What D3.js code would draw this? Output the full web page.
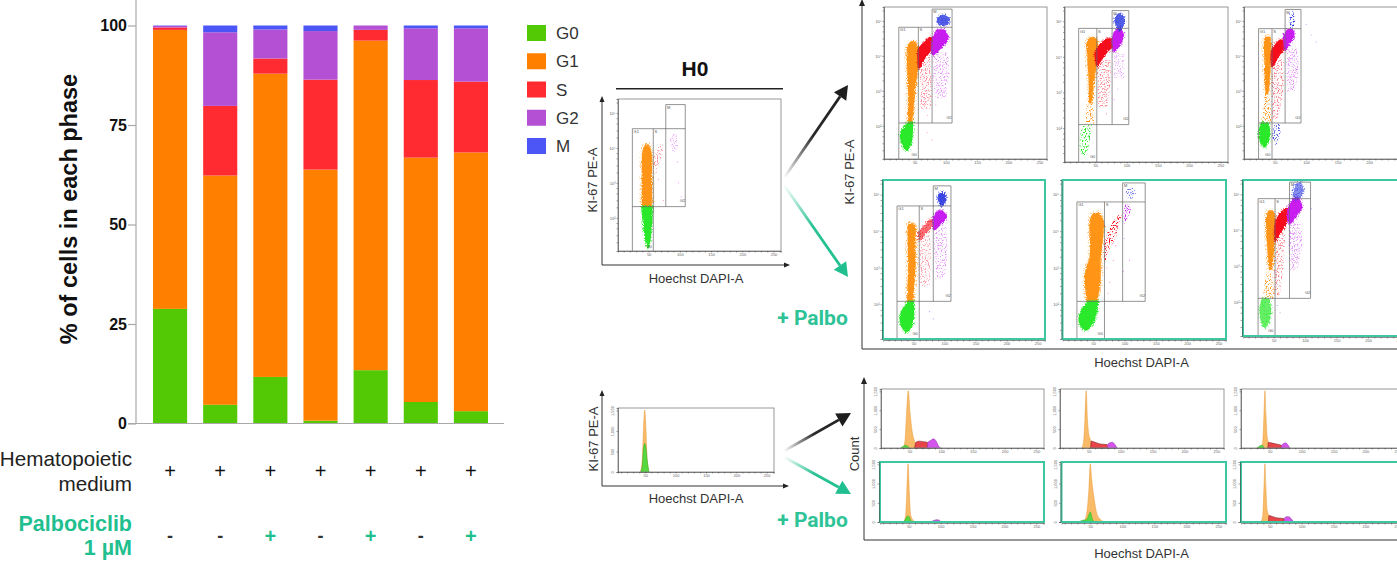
<!DOCTYPE html>
<html>
<head>
<meta charset="utf-8">
<script src="https://cdn.jsdelivr.net/npm/d3@7"></script>
<style>
html, body { margin: 0; padding: 0; background: #fff; overflow: hidden; }
text { font-family: "Liberation Sans", Arial, sans-serif; }
</style>
</head>
<body>
<div id="chart"></div>
<script>
// stacked bars
var phases = ['G0', 'G1', 'S', 'G2', 'M'];
var conditions = ['a', 'b', 'c', 'd', 'e', 'f', 'g'];
var g0Values = [28.8, 4.7, 11.7, 0.7, 13.4, 5.4, 3.1];
var g1Values = [70.1, 57.6, 76.2, 63.1, 82.8, 61.4, 65.0];
var sValues = [0.6, 17.5, 3.8, 22.6, 2.7, 19.5, 17.8];
var g2Values = [0.4, 18.5, 7.3, 12.2, 1.1, 13.0, 13.4];
var mValues = [0.1, 1.7, 1.0, 1.4, 0, 0.7, 0.7];
var yTicks = [0, 25, 50, 75, 100];
var mediumRow = ['+', '+', '+', '+', '+', '+', '+'];
var palboRow = ['-', '-', '+', '-', '+', '-', '+'];

// flow gates: left, G1|S, S|G2, right, top, M top, G0 split
var gatesH0 = [24, 57.5, 77.5, 108.7, 4.55, 5.24, 2.32];
var gatesA = [24.7, 56, 78, 110, 4.82, 5.34, 2.08];
var gatesB = [23.6, 52.6, 77, 103.6, 4.8, 5.3, 2.1];
var gatesC = [24.2, 45.6, 66.4, 91.7, 4.78, 5.33, 2.08];
var gatesD = [23.6, 59.4, 82, 110.5, 4.69, 5.24, 2.08];
var gatesE = [24, 68, 97, 133, 4.8, 5.32, 2.08];
var gatesF = [25, 52, 75, 108.5, 4.88, 5.34, 2.1];

// flow clouds: phase, density, slices of [decade, centre, half width]
var cloudsH0 = [
	['G1', 1, [[4.1, 47, 3], [3.9, 47.3, 7], [3.0, 47.3, 8], [2.32, 47.3, 8]]],
	['G0', 1, [[2.32, 47.5, 8], [2, 48, 7], [1.6, 48.5, 5], [1.25, 49, 2], [1.15, 49, 0.5]]],
	['S', 0.12, [[4.1, 70, 3], [3.8, 65, 6], [3.4, 61, 2]]],
	['G2', 0.1, [[4.4, 92, 3], [4.2, 90, 7], [3.9, 92, 3]]]
];
var cloudsA = [
	['S', 0.12, [[4.0, 66, 8], [3.2, 68, 9], [2.5, 68, 8]]],
	['G2', 0.12, [[4.1, 92, 12], [3.4, 92, 12], [2.8, 92, 8]]],
	['G1', 1, [[4.42, 47, 2], [4.3, 47, 8], [3.7, 47, 9], [3.13, 45.5, 6], [2.08, 43, 3.5]]],
	['G0', 1, [[2.1, 44, 3], [1.8, 37, 9], [1.5, 37, 7], [1.3, 37, 1]]],
	['S', 1, [[4.52, 76, 2], [4.42, 74, 6], [4.18, 66, 10], [3.9, 60, 4.5], [3.66, 57, 1]]],
	['G2', 1, [[4.74, 92, 6], [4.49, 91, 12], [4.18, 83, 6], [4.04, 80, 1]]],
	['M', 0.8, [[5.15, 96, 2], [5.05, 96, 9], [4.93, 96, 7], [4.88, 96, 1]]]
];
var cloudsB = [
	['S', 0.14, [[3.9, 64, 10], [3.3, 64, 10], [2.6, 62, 7]]],
	['G2', 0.1, [[4.1, 88, 8], [3.4, 88, 8]]],
	['G1', 1, [[4.55, 45.5, 3], [4.45, 45.5, 8], [3.9, 45.5, 8], [3.44, 44.4, 5], [2.98, 43, 3], [2.7, 42, 2]]],
	['G1', 0.3, [[3, 43, 4], [2.14, 41, 7]]],
	['G0', 0.35, [[2.1, 38, 6], [1.8, 34, 8], [1.4, 32, 6], [1.2, 32, 1]]],
	['S', 1, [[4.5, 73, 4], [4.32, 67.4, 11], [4.13, 59, 9], [3.9, 55, 4], [3.76, 53, 1]]],
	['G2', 1, [[4.8, 88, 2], [4.6, 87, 8], [4.4, 84, 7], [4.15, 80, 1]]],
	['M', 0.8, [[5.2, 89, 2], [5.05, 89, 7], [4.88, 89, 5], [4.75, 89, 1]]]
];
var cloudsC = [
	['S', 0.14, [[3.9, 55, 9], [3.0, 54, 9], [2.2, 50, 4]]],
	['G2', 0.14, [[4.2, 78, 8], [3.5, 78, 9], [3.0, 76, 5]]],
	['G1', 1, [[4.55, 38.4, 3], [4.5, 38.4, 5], [3.95, 38.4, 5], [3.2, 38, 3.5], [2.9, 37.5, 2]]],
	['G1', 0.3, [[3, 37.5, 3], [2.08, 37, 8]]],
	['G0', 1, [[2.08, 34, 5], [1.85, 33.5, 8], [1.55, 33.5, 6], [1.4, 33.5, 1]]],
	['M', 0.25, [[2.05, 54, 4], [1.7, 52, 6], [1.45, 52, 1]]],
	['S', 1, [[4.45, 62, 4], [4.2, 55, 9], [3.95, 49, 5], [3.7, 46.5, 1]]],
	['G2', 1, [[4.75, 74, 3], [4.6, 73, 8], [4.35, 69, 4], [4.2, 67, 1]]],
	['M', 0.45, [[5.3, 76, 2], [5.05, 78, 4], [4.8, 77, 3]]]
];
var cloudsD = [
	['S', 0.1, [[3.9, 68, 8], [3.2, 68, 10], [2.5, 68, 8]]],
	['G2', 0.12, [[4.1, 94, 9], [3.4, 94, 10], [2.7, 94, 6]]],
	['G1', 1, [[4.22, 46, 3], [4.15, 47, 6], [3.65, 47, 6], [2.99, 47.5, 6], [2.2, 45, 5], [2.08, 45, 5]]],
	['G0', 1, [[2.08, 46, 4], [1.75, 40, 10], [1.45, 39, 9], [1.25, 39, 1]]],
	['S', 0.6, [[4.3, 80, 4], [4.1, 72, 6], [3.95, 64, 5], [3.78, 60, 1]]],
	['G2', 1, [[4.55, 93, 3], [4.4, 93, 10], [4.2, 88, 6], [4.05, 84, 1]]],
	['M', 0.9, [[5.05, 96, 2], [4.92, 96, 6], [4.8, 96, 4], [4.7, 96, 1]]]
];
var cloudsE = [
	['G1', 1, [[4.5, 55, 5], [4.3, 55.5, 11], [3.7, 55, 10], [3.25, 53, 9], [2.95, 50, 12], [2.5, 49, 12], [2.08, 48, 8]]],
	['G0', 1, [[2.08, 50, 8], [1.8, 43, 12], [1.5, 39, 11], [1.3, 38, 2]]],
	['S', 0.45, [[4.45, 94, 3], [4.2, 85, 5], [3.85, 78, 8], [3.5, 71, 4], [3.2, 69, 1]]],
	['G2', 0.4, [[4.75, 104, 1], [4.56, 104, 6], [4.4, 102, 3], [4.2, 100, 1]]],
	['M', 0.2, [[5.2, 110, 2], [5.05, 110, 8], [4.9, 110, 2]]]
];
var cloudsF = [
	['S', 0.14, [[3.9, 60, 8], [3.0, 58, 7], [2.2, 55, 4]]],
	['G2', 0.14, [[4.2, 84, 10], [3.5, 84, 10], [2.9, 82, 5]]],
	['G1', 1, [[4.55, 45, 3], [4.4, 45, 7], [3.9, 45.5, 7], [3.2, 45, 4], [2.9, 45, 2.5]]],
	['G1', 0.3, [[3, 44, 3], [2.1, 41, 9]]],
	['G0', 0.7, [[2.08, 37, 5], [1.8, 36.5, 8], [1.55, 36.5, 7], [1.3, 36, 1]]],
	['S', 1, [[4.6, 71, 3], [4.4, 66, 8], [4.15, 60, 8], [3.85, 54, 3], [3.7, 52, 0.5]]],
	['G2', 1, [[4.9, 86, 3], [4.65, 84, 10], [4.35, 78, 6], [4.2, 76, 1]]],
	['M', 0.55, [[5.3, 90, 3], [5.1, 89, 7], [4.9, 86, 4], [4.85, 85, 1]]]
];

// stray events outside the dense clouds: phase, x, decade
var strayH0 = [['S', 62, 3.3], ['S', 58, 2.8], ['S', 66, 3.1], ['G2', 98, 3.0], ['G2', 102, 2.6], ['G2', 96, 3.6], ['S', 74, 2.5]];
var strayA = [['S', 70, 3.6], ['S', 75, 3.3], ['S', 62, 3.2], ['S', 68, 3.0], ['S', 60, 3.4], ['S', 73, 2.8], ['S', 65, 2.6], ['S', 71, 2.3], ['G2', 85, 3.9], ['G2', 90, 3.7], ['G2', 100, 3.8], ['G2', 105, 3.5], ['G2', 88, 3.2], ['G2', 96, 3.0], ['G2', 84, 2.6], ['S', 70, 1.8], ['S', 78, 1.6]];
var strayB = [['S', 58, 3.5], ['S', 62, 3.3], ['S', 66, 3.6], ['S', 70, 3.1], ['S', 57, 2.9], ['S', 64, 2.7], ['S', 72, 3.4], ['S', 68, 2.4], ['G2', 82, 3.8], ['G2', 90, 3.6], ['G2', 86, 3.1], ['G2', 95, 3.9], ['G2', 80, 2.8], ['G1', 118, 1.05]];
var strayC = [['S', 50, 3.5], ['S', 52, 3.2], ['S', 56, 3.0], ['S', 48, 2.9], ['S', 60, 3.4], ['S', 54, 2.6], ['S', 49, 2.4], ['S', 47, 2.2], ['G2', 72, 3.9], ['G2', 80, 4.1], ['G2', 76, 3.4], ['G2', 70, 3.0], ['G2', 84, 3.6], ['M', 108, 4.6], ['M', 116, 4.4], ['M', 100, 4.9]];
var strayD = [['S', 65, 3.5], ['S', 72, 3.2], ['S', 62, 3.0], ['S', 76, 2.8], ['S', 68, 2.5], ['G2', 88, 3.8], ['G2', 96, 3.5], ['G2', 92, 3.1], ['G2', 86, 2.7], ['M', 82, 1.6], ['M', 76, 1.8]];
var strayE = [['S', 72, 3.0], ['S', 76, 2.6], ['S', 82, 3.2], ['S', 86, 3.6], ['S', 74, 2.3], ['G2', 100, 3.8], ['G2', 108, 3.2], ['G2', 98, 2.9]];
var strayF = [['S', 55, 3.4], ['S', 58, 3.0], ['S', 54, 2.7], ['S', 60, 3.6], ['S', 53, 2.4], ['S', 57, 2.2], ['G2', 80, 3.9], ['G2', 85, 3.6], ['G2', 78, 3.2], ['G2', 90, 3.4], ['G2', 82, 2.9], ['M', 56, 1.9], ['M', 60, 1.7], ['M', 110, 4.6]];

// histograms: phase, [x, share of peak]
var histH0 = [
	['G1', [[42, 0], [45, 0.2], [47, 0.7], [49, 1], [51, 0.7], [53, 0.2], [56, 0]]],
	['G0', [[42, 0], [45, 0.1], [47, 0.38], [49, 0.46], [51, 0.4], [53, 0.2], [56, 0]]]
];
var histA = [
	['G1', [[40, 0], [43, 0.15], [45, 0.55], [48, 1], [51, 0.6], [54, 0.3], [58, 0.12], [62, 0.04]]],
	['G0', [[36, 0], [40, 0.03], [44, 0.05], [47, 0.03], [50, 0]]],
	['S', [[58, 0], [60, 0.1], [65, 0.12], [72, 0.11], [78, 0.1], [79, 0]]],
	['G2', [[78, 0], [79, 0.1], [83, 0.13], [88, 0.16], [92, 0.12], [96, 0.03], [99, 0]]]
];
var histB = [
	['G1', [[39, 0], [42, 0.12], [44, 0.5], [46, 1], [48, 0.5], [50, 0.25], [54, 0.12]]],
	['S', [[53, 0], [54, 0.12], [60, 0.1], [68, 0.07], [79, 0.06], [80, 0]]],
	['G2', [[79, 0], [80, 0.06], [83, 0.09], [87, 0.1], [91, 0.06], [94, 0.01]]]
];
var histC = [
	['G1', [[36, 0], [39, 0.1], [41, 0.6], [42.5, 1], [44, 0.6], [46, 0.2], [48, 0.1]]],
	['G0', [[30, 0], [35, 0.04], [38, 0.05], [41, 0.01]]],
	['S', [[47, 0], [48, 0.1], [52, 0.09], [60, 0.07], [68, 0.05], [69, 0]]],
	['G2', [[68, 0], [69, 0.05], [72, 0.08], [75, 0.09], [78, 0.06], [81, 0.01]]]
];
var histD = [
	['G1', [[42, 0], [45, 0.1], [47, 0.5], [49, 1], [51, 0.5], [53, 0.12], [57, 0.03]]],
	['G0', [[42, 0], [45, 0.05], [48, 0.1], [50, 0.1], [53, 0.03], [56, 0]]],
	['G2', [[85, 0], [90, 0.03], [94, 0.04], [98, 0.03], [101, 0]]]
];
var histE = [
	['G1', [[38, 0], [42, 0.05], [45, 0.2], [48, 0.6], [50, 1], [52, 0.75], [56, 0.4], [60, 0.15], [65, 0.05], [70, 0.01]]],
	['G0', [[32, 0], [38, 0.03], [44, 0.04], [47, 0.1], [50, 0.17], [53, 0.06], [56, 0]]]
];
var histF = [
	['G1', [[36, 0], [39, 0.1], [41, 0.6], [42.5, 1], [44, 0.6], [46, 0.2], [49, 0.12]]],
	['G0', [[33, 0], [37, 0.01], [40, 0.01]]],
	['S', [[48, 0], [49, 0.11], [55, 0.09], [62, 0.07], [72, 0.06], [73, 0]]],
	['G2', [[72, 0], [73, 0.06], [76, 0.09], [80, 0.09], [84, 0.05], [87, 0.01]]]
];

var flowXTicks = d3.range(10, 261, 10);
var flowXLabels = [50, 100, 150, 200, 250];
var flowYTicks = [2, 3, 4, 5];
var flowYMinor = [1.3, 1.5, 1.7, 1.85, 2.3, 2.5, 2.7, 2.85, 3.3, 3.5, 3.7, 3.85, 4.3, 4.5, 4.7, 4.85, 5.3];
var countTicks = [0, 0.33, 0.66, 0.99];
var countLabels = ['0', '500', '1,000', '1,500'];

var barColor = d3.scaleOrdinal(phases, ['#53c804', '#ff8000', '#ff2b30', '#b350d4', '#4c56f6']);
var cloudColor = d3.scaleOrdinal(phases, ['#2be82b', '#ff9415', '#f5101c', '#c81ff0', '#2a37e0']);
var histColor = d3.scaleOrdinal(phases, ['#55d83f', '#f9bb68', '#e8444a', '#d455ec', '#4c56f6']);
var histEdge = d3.scaleOrdinal(phases, ['#2aa81e', '#e89a3a', '#701418', '#8a2aa0', '#222a90']);

var ink = '#111';
var teal = '#1fbf8f';
var frameTeal = '#3ec6a0';
var axisGrey = '#a9a9a9';

var width = 1397, height = 572;
var svg = d3.select('#chart').append('svg')
	.attr('width', width)
	.attr('height', height)
	.style('display', 'block');
var defs = svg.append('defs');

// grainy edge so the dense clouds do not read as flat shapes
var grain = defs.append('filter').attr('id', 'grain')
	.attr('x', '-30%').attr('y', '-30%').attr('width', '160%').attr('height', '160%');
grain.append('feTurbulence').attr('type', 'fractalNoise').attr('baseFrequency', 0.9)
	.attr('numOctaves', 2).attr('seed', 4).attr('result', 'n');
grain.append('feDisplacementMap').attr('in', 'SourceGraphic').attr('in2', 'n')
	.attr('scale', 3.5).attr('xChannelSelector', 'R').attr('yChannelSelector', 'G').attr('result', 'd');
grain.append('feGaussianBlur').attr('in', 'd').attr('stdDeviation', 0.5);

// speckle mask for the thin parts and the halo round each cloud
var speckle = defs.append('filter').attr('id', 'speckle')
	.attr('x', '-30%').attr('y', '-30%').attr('width', '160%').attr('height', '160%');
speckle.append('feTurbulence').attr('type', 'fractalNoise').attr('baseFrequency', 0.75)
	.attr('numOctaves', 1).attr('seed', 9).attr('result', 'n');
speckle.append('feColorMatrix').attr('in', 'n').attr('type', 'matrix')
	.attr('values', '0 0 0 0 0  0 0 0 0 0  0 0 0 0 0  7 0 0 0 -3.6').attr('result', 'mask');
speckle.append('feComposite').attr('in', 'SourceGraphic').attr('in2', 'mask')
	.attr('operator', 'in').attr('result', 'dots');
speckle.append('feGaussianBlur').attr('in', 'dots').attr('stdDeviation', 0.25);

defs.append('filter').attr('id', 'soft')
	.append('feGaussianBlur').attr('stdDeviation', 0.3);

var bandX = d3.scaleBand().domain(conditions).range([145, 496])
	.paddingInner(0.32).paddingOuter(0.16);

drawBars();
drawLegend();
drawRows();

// flow panels
drawFlow({ x: 618, y: 99, w: 163, h: 152 }, gatesH0, cloudsH0, strayH0, false);
drawFlow({ x: 884, y: 7, w: 163, h: 152 }, gatesA, cloudsA, strayA, false);
drawFlow({ x: 1064.5, y: 7, w: 163.5, h: 155 }, gatesB, cloudsB, strayB, false);
drawFlow({ x: 1244, y: 7, w: 164, h: 152 }, gatesC, cloudsC, strayC, false);
drawFlow({ x: 883, y: 180, w: 162, h: 159 }, gatesD, cloudsD, strayD, true);
drawFlow({ x: 1062.5, y: 180, w: 163.5, h: 159 }, gatesE, cloudsE, strayE, true);
drawFlow({ x: 1243, y: 180, w: 164, h: 156 }, gatesF, cloudsF, strayF, true);

// histogram panels
drawHist({ x: 618, y: 408, w: 156, h: 64 }, histH0, false);
drawHist({ x: 881, y: 389, w: 163, h: 59 }, histA, false);
drawHist({ x: 1060, y: 389, w: 164, h: 59 }, histB, false);
drawHist({ x: 1241, y: 389, w: 164, h: 59 }, histC, false);
drawHist({ x: 880, y: 462, w: 164, h: 60 }, histD, true);
drawHist({ x: 1061.5, y: 462, w: 164.5, h: 60 }, histE, true);
drawHist({ x: 1241, y: 462, w: 164, h: 60 }, histF, true);

drawFrames();

function drawBars() {
	var y = d3.scaleLinear().domain([0, 100]).range([423.5, 25.5]);
	var rows = conditions.map(function (c, i) {
		return { c: c, G0: g0Values[i], G1: g1Values[i], S: sValues[i], G2: g2Values[i], M: mValues[i] };
	});
	var stacked = d3.stack().keys(phases)(rows);

	var chart = svg.append('g');
	chart.selectAll('g.layer')
		.data(stacked)
		.enter().append('g')
			.attr('class', 'layer')
			.attr('fill', function (d) { return barColor(d.key); })
		.selectAll('rect')
		.data(function (d) { return d; })
		.enter().append('rect')
			.attr('x', function (d) { return bandX(d.data.c); })
			.attr('width', bandX.bandwidth())
			.attr('y', function (d) { return y(d[1]); })
			.attr('height', function (d) { return y(d[0]) - y(d[1]); });

	var axis = chart.append('g')
		.attr('transform', 'translate(136,0)')
		.call(d3.axisLeft(y).tickValues(yTicks).tickSize(8).tickPadding(1));
	axis.select('.domain').remove();
	axis.selectAll('line').attr('stroke', axisGrey).attr('stroke-width', 1.2);
	axis.selectAll('text')
		.attr('fill', ink)
		.style('font-size', '16px')
		.style('font-weight', 'bold');
	chart.append('line').attr('x1', 136).attr('x2', 136).attr('y1', 0).attr('y2', y(0))
		.attr('stroke', axisGrey).attr('stroke-width', 1.2);
	chart.append('line').attr('x1', 128).attr('x2', 504).attr('y1', y(0)).attr('y2', y(0))
		.attr('stroke', axisGrey).attr('stroke-width', 1.2);

	chart.append('text')
		.attr('transform', 'translate(77,209) rotate(-90)')
		.attr('text-anchor', 'middle')
		.attr('fill', ink)
		.style('font-size', '23.5px')
		.style('font-weight', 'bold')
		.text('% of cells in each phase');
}

function drawLegend() {
	var y = d3.scalePoint().domain(phases).range([33, 146]);
	var row = svg.append('g').selectAll('g')
		.data(phases)
		.enter().append('g')
		.attr('transform', function (d) { return 'translate(527,' + y(d) + ')'; });
	row.append('rect')
		.attr('y', -8).attr('width', 19).attr('height', 16)
		.attr('fill', function (d) { return barColor(d); });
	row.append('text')
		.attr('x', 29).attr('y', 6)
		.attr('fill', '#333')
		.style('font-size', '17px')
		.text(function (d) { return d; });
}

function drawRows() {
	var centre = function (d, i) { return bandX(conditions[i]) + bandX.bandwidth() / 2; };

	svg.append('g').selectAll('text')
		.data(mediumRow)
		.enter().append('text')
		.attr('x', centre).attr('y', 478)
		.attr('text-anchor', 'middle').attr('fill', ink)
		.style('font-size', '20px')
		.text(function (d) { return d; });
	svg.append('g').selectAll('text')
		.data(palboRow)
		.enter().append('text')
		.attr('x', centre).attr('y', function (d) { return d === '+' ? 543 : 542; })
		.attr('text-anchor', 'middle')
		.attr('fill', function (d) { return d === '+' ? teal : '#333'; })
		.style('font-size', function (d) { return d === '+' ? '20px' : '18px'; })
		.style('font-weight', 'bold')
		.text(function (d) { return d; });

	var label = svg.append('g').attr('text-anchor', 'end');
	label.append('text').attr('x', 132).attr('y', 466).attr('fill', '#222')
		.style('font-size', '20.7px').text('Hematopoietic');
	label.append('text').attr('x', 132).attr('y', 491).attr('fill', '#222')
		.style('font-size', '20.7px').text('medium');
	label.append('text').attr('x', 132).attr('y', 531).attr('fill', teal)
		.style('font-size', '21.5px').style('font-weight', 'bold').text('Palbociclib');
	label.append('text').attr('x', 132).attr('y', 555).attr('fill', teal)
		.style('font-size', '21.5px').style('font-weight', 'bold').text('1 µM');
}

function smallAxis(g, scale, orient, ticks, major) {
	var axis = (orient === 'x' ? d3.axisBottom(scale) : d3.axisLeft(scale))
		.tickValues(ticks).tickSize(1.5).tickPadding(1)
		.tickFormat(function (d) { return major.indexOf(d) > -1 ? major.label(d) : ''; });
	g.call(axis);
	g.select('.domain').attr('stroke', '#444').attr('stroke-width', 0.6);
	g.selectAll('line').attr('stroke', '#444').attr('stroke-width', 0.5);
	g.selectAll('text').attr('fill', '#666').style('font-size', '4px');
}

function flowMajor() {
	var list = flowXLabels.slice();
	list.label = function (d) { return d; };
	return list;
}

function drawFlow(box, gates, clouds, stray, green) {
	var x = d3.scaleLinear().domain([1, 262]).range([box.x, box.x + box.w]);
	var y = d3.scaleLinear().domain([1.05, 5.4]).range([box.y + box.h, box.y]);
	var p = svg.append('g');

	var area = d3.area()
		.y(function (d) { return y(d[0]); })
		.x0(function (d) { return x(d[1] - d[2]); })
		.x1(function (d) { return x(d[1] + d[2]); })
		.curve(d3.curveCatmullRom);

	// thin clouds and a dotted halo round the dense ones
	p.append('g').attr('filter', 'url(#speckle)').selectAll('path')
		.data(clouds)
		.enter().append('path')
		.attr('d', function (d) { return area(d[2]); })
		.attr('fill', function (d) { return cloudColor(d[0]); })
		.attr('stroke', function (d) { return cloudColor(d[0]); })
		.attr('stroke-width', function (d) { return d[1] < 0.5 ? 0.5 : 5; })
		.attr('stroke-linejoin', 'round')
		.attr('opacity', function (d) { return d[1] < 0.5 ? Math.min(1, d[1] * 3.5) : 0.55; });

	p.append('g').attr('filter', 'url(#grain)').selectAll('path')
		.data(clouds.filter(function (d) { return d[1] >= 0.5; }))
		.enter().append('path')
		.attr('d', function (d) { return area(d[2]); })
		.attr('fill', function (d) { return cloudColor(d[0]); })
		.attr('stroke', function (d) { return cloudColor(d[0]); })
		.attr('stroke-width', function (d) { return d[0] === 'G1' ? 0.3 : 1.5; })
		.attr('stroke-linejoin', 'round')
		.attr('opacity', function (d) { return d[1]; });

	p.append('g').selectAll('circle')
		.data(stray)
		.enter().append('circle')
		.attr('cx', function (d) { return x(d[1]); })
		.attr('cy', function (d) { return y(d[2]); })
		.attr('r', 0.55)
		.attr('fill', function (d) { return cloudColor(d[0]); })
		.attr('opacity', 0.45);

	// gates
	var left = gates[0], gS = gates[1], gG2 = gates[2], right = gates[3];
	var top = gates[4], mTop = gates[5], split = gates[6];
	var segs = [
		[left, 1.05, left, top], [left, top, right, top], [gS, 1.05, gS, top],
		[gG2, split, gG2, mTop], [right, split, right, mTop], [gG2, mTop, right, mTop],
		[left, split, right, split]
	];
	p.append('g').selectAll('line')
		.data(segs)
		.enter().append('line')
		.attr('x1', function (d) { return x(d[0]); })
		.attr('y1', function (d) { return y(d[1]); })
		.attr('x2', function (d) { return x(d[2]); })
		.attr('y2', function (d) { return y(d[3]); })
		.attr('stroke', '#666').attr('stroke-width', 0.7);

	var names = [
		['G1', left + 2, top - 0.12], ['S', gS + 2, top - 0.12], ['M', gG2 + 2, mTop - 0.12],
		['G2', right - 9, split + 0.12], ['G0', gS - 11, 1.15]
	];
	p.append('g').selectAll('text')
		.data(names)
		.enter().append('text')
		.attr('x', function (d) { return x(d[1]); })
		.attr('y', function (d) { return y(d[2]); })
		.attr('fill', '#555')
		.style('font-size', '4px')
		.text(function (d) { return d[0]; });

	// panel frame
	p.append('rect')
		.attr('x', box.x).attr('y', box.y).attr('width', box.w).attr('height', box.h)
		.attr('fill', 'none')
		.attr('stroke', green ? frameTeal : '#8d8d8d')
		.attr('stroke-width', green ? 2 : 0.9);

	var xAxis = p.append('g').attr('transform', 'translate(0,' + (box.y + box.h + (green ? 1 : 0)) + ')');
	smallAxis(xAxis, x, 'x', flowXTicks, flowMajor());
	var major = flowYTicks.slice();
	major.label = function (d) { return '10' + '²³⁴⁵'.charAt(d - 2); };
	var yAxis = p.append('g').attr('transform', 'translate(' + (box.x - (green ? 1 : 0)) + ',0)');
	smallAxis(yAxis, y, 'y', flowYTicks.concat(flowYMinor), major);
}

function drawHist(box, series, green) {
	var x = d3.scaleLinear().domain([5, 262]).range([box.x, box.x + box.w]);
	var y = d3.scaleLinear().domain([0, 1.03]).range([box.y + box.h, box.y]);
	var p = svg.append('g');

	var area = d3.area()
		.x(function (d) { return x(d[0]); })
		.y0(y(0))
		.y1(function (d) { return y(d[1]); })
		.curve(d3.curveMonotoneX);

	p.append('g').attr('filter', 'url(#soft)').selectAll('path')
		.data(series)
		.enter().append('path')
		.attr('d', function (d) { return area(d[1]); })
		.attr('fill', function (d) { return histColor(d[0]); })
		.attr('stroke', function (d) { return histEdge(d[0]); })
		.attr('stroke-width', 0.5);

	p.append('rect')
		.attr('x', box.x).attr('y', box.y).attr('width', box.w).attr('height', box.h)
		.attr('fill', 'none')
		.attr('stroke', green ? frameTeal : '#8d8d8d')
		.attr('stroke-width', green ? 2 : 0.9);

	var xAxis = p.append('g').attr('transform', 'translate(0,' + (box.y + box.h + (green ? 1 : 0)) + ')');
	smallAxis(xAxis, x, 'x', flowXTicks, flowMajor());

	var major = countTicks.slice();
	major.label = function (d) { return countLabels[countTicks.indexOf(d)]; };
	var yAxis = p.append('g').attr('transform', 'translate(' + (box.x - (green ? 1 : 0)) + ',0)');
	smallAxis(yAxis, y, 'y', countTicks, major);
	yAxis.selectAll('text')
		.attr('transform', 'rotate(-90)')
		.attr('x', 0).attr('y', -4)
		.attr('dy', 0)
		.attr('text-anchor', 'middle');
}

function arrow(id, x1, y1, x2, y2, colour, w) {
	var grad = defs.append('linearGradient').attr('id', id)
		.attr('gradientUnits', 'userSpaceOnUse')
		.attr('x1', x1).attr('y1', y1).attr('x2', x2).attr('y2', y2);
	grad.append('stop').attr('offset', 0).attr('stop-color', colour).attr('stop-opacity', 0);
	grad.append('stop').attr('offset', 0.45).attr('stop-color', colour).attr('stop-opacity', 0.95);
	grad.append('stop').attr('offset', 1).attr('stop-color', colour);

	var angle = Math.atan2(y2 - y1, x2 - x1);
	var headLen = 14, headW = 7.5;
	var bx = x2 - headLen * Math.cos(angle), by = y2 - headLen * Math.sin(angle);
	var nx = -Math.sin(angle) * headW, ny = Math.cos(angle) * headW;

	svg.append('line')
		.attr('x1', x1).attr('y1', y1).attr('x2', bx).attr('y2', by)
		.attr('stroke', 'url(#' + id + ')').attr('stroke-width', w);
	svg.append('path')
		.attr('d', d3.line()([[x2, y2], [bx + nx, by + ny], [bx - nx, by - ny]]) + 'Z')
		.attr('fill', colour);
}

function axisArrow(points, head) {
	svg.append('path')
		.attr('d', d3.line()(points))
		.attr('fill', 'none').attr('stroke', '#333').attr('stroke-width', 1);
	head.forEach(function (h) {
		svg.append('path')
			.attr('d', d3.line()(h) + 'Z')
			.attr('fill', '#222');
	});
}

function plainText(str, x, y, size, opts) {
	opts = opts || {};
	var t = svg.append('text')
		.attr('text-anchor', 'middle')
		.attr('fill', opts.fill || '#333')
		.attr('transform', 'translate(' + x + ',' + y + ')' + (opts.rotate ? ' rotate(-90)' : ''))
		.style('font-size', size + 'px')
		.style('font-weight', opts.bold ? 'bold' : 'normal')
		.text(str);
	if (opts.family) t.style('font-family', opts.family);
}

function drawFrames() {
	// H0 scatter axes
	axisArrow([[602, 99], [602, 265], [786, 265]],
		[[[602, 96], [599.5, 102], [604.5, 102]], [[790, 265], [784, 262.5], [784, 267.5]]]);
	plainText('KI-67 PE-A', 597, 180, 13, { rotate: true });
	plainText('Hoechst DAPI-A', 696, 282.5, 13);
	plainText('H0', 695, 76, 21, { bold: true, fill: ink });
	svg.append('line').attr('x1', 616).attr('x2', 783).attr('y1', 88.7).attr('y2', 88.7)
		.attr('stroke', '#222').attr('stroke-width', 1.6);

	arrow('arrA', 784, 178, 848, 85, '#1e1e1e', 2.8);
	arrow('arrB', 784, 185, 848, 277, teal, 2.8);
	plainText('+ Palbo', 812.5, 325, 21, { bold: true, fill: '#2ec397', family: 'Roboto' });

	// outer scatter axes
	axisArrow([[862, 3], [862, 349], [1397, 349]], [[[862, -1], [859, 6], [865, 6]]]);
	plainText('KI-67 PE-A', 854, 172, 13, { rotate: true });
	plainText('Hoechst DAPI-A', 1141.5, 367, 13);

	// H0 histogram axes
	axisArrow([[602, 393], [602, 486], [786, 486]],
		[[[602, 390], [599.5, 396], [604.5, 396]], [[789, 486], [783, 483.5], [783, 488.5]]]);
	plainText('KI-67 PE-A', 598, 439, 13, { rotate: true });
	plainText('Hoechst DAPI-A', 696, 503, 13);

	arrow('arrC', 784, 451, 851, 413, '#1e1e1e', 2.8);
	arrow('arrD', 784, 457, 851, 494, teal, 2.8);
	plainText('+ Palbo', 812.5, 527, 21, { bold: true, fill: '#2ec397', family: 'Roboto' });

	// outer histogram axes
	axisArrow([[864, 381], [864, 540], [1397, 540]], [[[864, 377], [861, 384], [867, 384]]]);
	plainText('Count', 859, 454, 13, { rotate: true });
	plainText('Hoechst DAPI-A', 1141.5, 558, 13);
}
</script>
</body>
</html>
